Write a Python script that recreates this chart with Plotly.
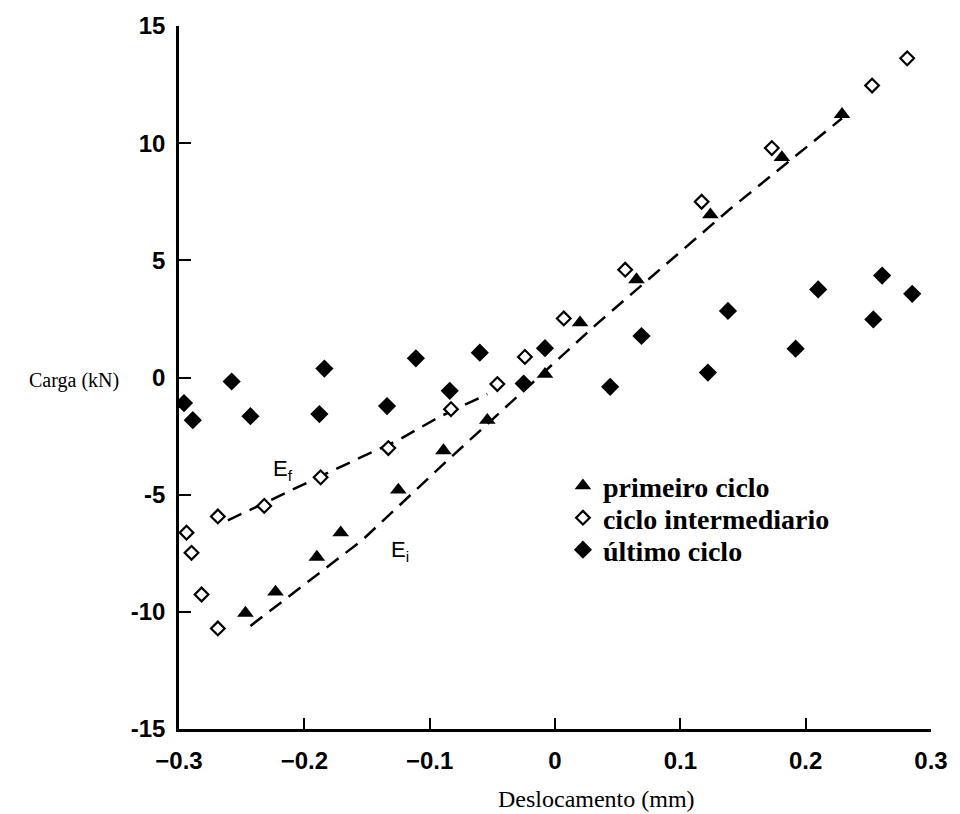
import plotly.graph_objects as go

# Axis ticks and labels
x_ticks = [-0.3, -0.2, -0.1, 0.0, 0.1, 0.2, 0.3]
x_tick_labels = ["−0.3", "−0.2", "−0.1", "0", "0.1", "0.2", "0.3"]
y_ticks = [-15, -10, -5, 0, 5, 10, 15]
y_tick_labels = ["-15", "-10", "-5", "0", "5", "10", "15"]

# primeiro ciclo (filled triangles)
primeiro_x = [-0.247, -0.223, -0.190, -0.171, -0.125, -0.089, -0.054, -0.008,
              0.020, 0.065, 0.124, 0.181, 0.229]
primeiro_y = [-10.05, -9.15, -7.66, -6.62, -4.80, -3.12, -1.82, 0.14,
              2.34, 4.18, 6.95, 9.39, 11.23]

# ciclo intermediario (open diamonds)
intermed_x = [-0.294, -0.290, -0.282, -0.269, -0.269, -0.232, -0.187, -0.133,
              -0.083, -0.046, -0.024, 0.007, 0.056, 0.117, 0.173, 0.253, 0.281]
intermed_y = [-6.62, -7.48, -9.26, -10.71, -5.93, -5.48, -4.26, -3.01,
              -1.35, -0.28, 0.88, 2.52, 4.60, 7.50, 9.79, 12.46, 13.62]

# último ciclo (filled diamonds)
ultimo_x = [-0.296, -0.289, -0.258, -0.243, -0.188, -0.184, -0.134, -0.111,
            -0.084, -0.060, -0.025, -0.008, 0.044, 0.069, 0.122, 0.138,
            0.192, 0.210, 0.254, 0.261, 0.285]
ultimo_y = [-1.09, -1.82, -0.17, -1.65, -1.56, 0.38, -1.22, 0.82,
            -0.57, 1.06, -0.26, 1.25, -0.40, 1.77, 0.21, 2.84,
            1.23, 3.76, 2.48, 4.35, 3.57]

# Stiffness lines: final (Ef) and initial (Ei)
ef_x = [-0.261, -0.222, -0.177, -0.124, -0.093, -0.054]
ef_y = [-6.10, -5.10, -3.96, -2.64, -1.70, -0.71]
ei_x = [-0.243, -0.190, -0.154, -0.086, 0.033, 0.139, 0.229]
ei_y = [-10.60, -8.44, -6.95, -3.55, 2.27, 7.16, 11.06]

# Label anchors for the stiffness lines
ef_label = (-0.217, -3.95)
ei_label = (-0.124, -7.4)

legend_font = dict(family="Liberation Serif", size=28, color="black", weight="bold")
tick_font = dict(family="Liberation Sans", size=24, color="black", weight="bold")

fig = go.Figure()

dash = "15px,9px"
fig.add_trace(go.Scatter(x=ef_x, y=ef_y, mode="lines", showlegend=False,
                         line=dict(color="black", width=2.5, dash=dash)))
fig.add_trace(go.Scatter(x=ei_x, y=ei_y, mode="lines", showlegend=False,
                         line=dict(color="black", width=2.5, dash=dash)))

fig.add_trace(go.Scatter(
    x=intermed_x, y=intermed_y, mode="markers", name="ciclo intermediario",
    legend="legend2",
    marker=dict(symbol="diamond", size=10.5, color="white",
                line=dict(color="black", width=2.2))))
fig.add_trace(go.Scatter(
    x=primeiro_x, y=primeiro_y, mode="markers", name="primeiro ciclo",
    legend="legend",
    marker=dict(symbol="triangle-up", size=14.5, color="black",
                line=dict(width=0))))
fig.add_trace(go.Scatter(
    x=ultimo_x, y=ultimo_y, mode="markers", name="último ciclo",
    legend="legend3",
    marker=dict(symbol="diamond", size=14, color="black",
                line=dict(width=0))))

# plot area in pixels: x 179..937, y 26..729
L, R, T, B = 179, 937, 26, 729
W, H = 960, 814


def px_x(p):
    return (p - L) / (R - L)


def px_y(p):
    return (B - p) / (B - T)


legend_common = dict(font=legend_font, bgcolor="rgba(0,0,0,0)", borderwidth=0,
                     xanchor="left", yanchor="middle", itemwidth=30,
                     x=px_x(566))
fig.update_layout(
    legend=dict(y=px_y(486), **legend_common),
    legend2=dict(y=px_y(518), **legend_common),
    legend3=dict(y=px_y(550), **legend_common),
)

fig.add_annotation(x=ef_label[0], y=ef_label[1], text="E<sub>f</sub>",
                   showarrow=False, font=dict(family="Liberation Sans", size=22, color="black"))
fig.add_annotation(x=ei_label[0], y=ei_label[1], text="E<sub>i</sub>",
                   showarrow=False, font=dict(family="Liberation Sans", size=22, color="black"))

# Axis titles (horizontal y title, as in the original layout)
fig.add_annotation(xref="paper", yref="paper", x=px_x(121), y=px_y(380),
                   xanchor="right", yanchor="middle", text="Carga (kN)",
                   showarrow=False,
                   font=dict(family="Liberation Serif", size=20, color="black"))
fig.add_annotation(xref="paper", yref="paper", x=px_x(600), y=px_y(799),
                   xanchor="center", yanchor="middle", text="Deslocamento (mm)",
                   showarrow=False,
                   font=dict(family="Liberation Serif", size=24, color="black"))

fig.update_xaxes(range=[-0.3, 0.3], tickmode="array", tickvals=x_ticks,
                 ticktext=x_tick_labels, ticks="inside", ticklen=11, tickwidth=1.5,
                 tickcolor="black", showline=True, linecolor="black", linewidth=2.5,
                 showgrid=False, zeroline=False, tickfont=tick_font,
                 ticklabelstandoff=8, fixedrange=True)
fig.update_yaxes(range=[-15, 15], tickmode="array", tickvals=y_ticks,
                 ticktext=y_tick_labels, ticks="inside", ticklen=12, tickwidth=2,
                 tickcolor="black", showline=True, linecolor="black", linewidth=2.5,
                 showgrid=False, zeroline=False, tickfont=tick_font,
                 ticklabelstandoff=6, fixedrange=True)

fig.update_layout(
    width=W, height=H, autosize=False,
    margin=dict(l=L, r=W - R, t=T, b=H - B),
    paper_bgcolor="white", plot_bgcolor="white",
    showlegend=True,
)

fig.write_html("out.html")
